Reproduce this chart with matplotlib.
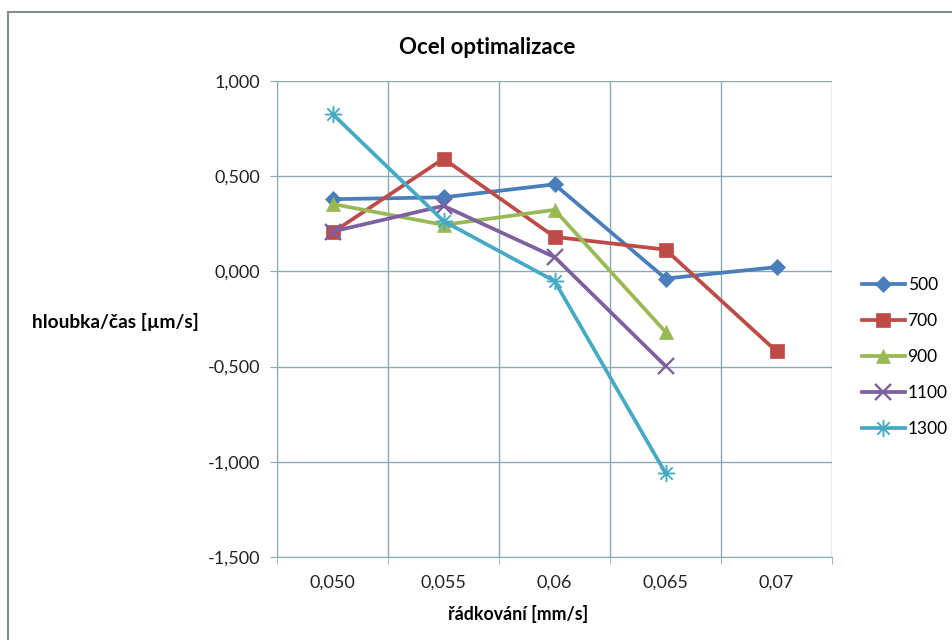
import matplotlib.pyplot as plt
from matplotlib.lines import Line2D
from matplotlib.ticker import FixedLocator, FuncFormatter

plt.rcParams['font.family'] = ['Lato', 'DejaVu Sans']

# data
categories = ["0,050", "0,055", "0,06", "0,065", "0,07"]
series_names = ["500", "700", "900", "1100", "1300"]
s500 = [0.38, 0.39, 0.458, -0.037, 0.023]
s700 = [0.205, 0.593, 0.182, 0.115, -0.42]
s900 = [0.355, 0.245, 0.324, -0.318]
s1100 = [0.21, 0.345, 0.076, -0.497]
s1300 = [0.828, 0.265, -0.05, -1.06]
y_ticks = [-1.5, -1.0, -0.5, 0.0, 0.5, 1.0]

colors = ["#4a7ebb", "#be4b48", "#98b954", "#7d60a0", "#46aac5"]
markers = ["D", "s", "^", "x", "$\u2733$"]
msizes = [8.5, 9.5, 9.5, 11, 12]

fig = plt.figure(figsize=(9.52, 6.4), dpi=100)
ax = fig.add_axes([0.291, 0.13, 0.583, 0.743])

grid_c = "#8aa9b3"
all_series = [s500, s700, s900, s1100, s1300]
for vals, name, c, m, ms in zip(all_series, series_names, colors, markers, msizes):
    xs = list(range(len(vals)))
    ax.plot(xs, vals, color=c, lw=2.7, marker=m, markersize=ms,
            markeredgewidth=1.7 if m == "x" else 0.5, markeredgecolor=c,
            label=name, zorder=3)

ax.set_xlim(-0.5, len(categories) - 0.5)
ax.set_ylim(-1.5, 1.0)
ax.set_xticks(range(len(categories)))
ax.set_xticklabels(categories)
ax.xaxis.set_minor_locator(FixedLocator([i - 0.5 for i in range(len(categories) + 1)]))
ax.set_yticks(y_ticks)
ax.yaxis.set_major_formatter(FuncFormatter(lambda v, p: f"{v:.3f}".replace(".", ",")))

ax.grid(True, which="major", axis="y", color=grid_c, lw=1.0)
ax.grid(True, which="minor", axis="x", color=grid_c, lw=1.0)
ax.tick_params(axis="x", which="major", length=0, labelsize=13, pad=13, colors="#222222")
ax.tick_params(axis="x", which="minor", length=5, color=grid_c)
ax.tick_params(axis="y", length=5, color=grid_c, labelsize=13, pad=7, colors="#222222")
ax.tick_params(axis="y", color=grid_c)
for sp in ax.spines.values():
    sp.set_visible(False)
ax.spines["left"].set_visible(True)
ax.spines["left"].set_color(grid_c)
ax.spines["bottom"].set_visible(True)
ax.spines["bottom"].set_color(grid_c)

ax.set_title("Ocel optimalizace", fontsize=16, fontweight="bold", pad=20, x=0.378)
ax.set_xlabel("řádkování [mm/s]", fontsize=12.8, fontweight="bold", labelpad=10, x=0.435)
fig.text(0.034, 0.497, "hloubka/čas [µm/s]", fontsize=13.8, fontweight="bold", va="center")

ax.legend(loc="center left", bbox_to_anchor=(1.025, 0.42), frameon=False,
          fontsize=12.5, handlelength=2.5, labelspacing=1.15, handletextpad=0.15)

# chart border (top and left edges visible)
fig.add_artist(Line2D([0.008, 1.0], [0.981, 0.981], color="#7f8c8d", lw=1.5))
fig.add_artist(Line2D([0.008, 0.008], [0.0, 0.981], color="#7f8c8d", lw=1.5))

fig.savefig("out.png", dpi=100)
